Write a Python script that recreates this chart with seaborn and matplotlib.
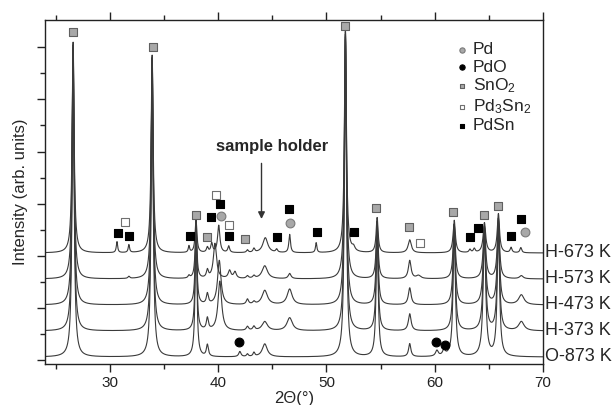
import seaborn as sns
import matplotlib.pyplot as plt
import numpy as np
import pandas as pd
from matplotlib.ticker import MultipleLocator, FixedLocator

# Patrones DRX apilados (posicion 2theta, altura, anchura FWHM)
samples = ['O-873 K', 'H-373 K', 'H-473 K', 'H-573 K', 'H-673 K']

peaks_o873 = [(26.60, 11.6, 0.22), (33.90, 11.2, 0.22), (37.95, 4.9, 0.20), (39.00, 0.45, 0.22),
              (42.00, 0.20, 0.25), (42.70, 0.10, 0.20), (43.30, 0.15, 0.20), (44.30, 0.50, 0.55),
              (51.75, 12.2, 0.22), (54.68, 5.0, 0.22), (57.69, 0.50, 0.25), (60.20, 0.22, 0.30),
              (60.85, 0.22, 0.30), (61.80, 4.9, 0.25), (64.59, 4.8, 0.28), (65.88, 5.1, 0.25)]
peaks_h373 = [(26.60, 10.8, 0.22), (33.90, 10.4, 0.22), (37.95, 3.9, 0.20), (39.00, 0.45, 0.22),
              (40.15, 1.9, 0.40), (42.70, 0.15, 0.25), (43.30, 0.15, 0.25), (44.30, 0.35, 0.60),
              (46.60, 0.50, 0.60), (51.75, 11.3, 0.22), (54.68, 4.1, 0.22), (57.69, 0.65, 0.30),
              (61.80, 4.0, 0.25), (64.59, 3.9, 0.28), (65.88, 4.2, 0.25), (68.00, 0.35, 0.60)]
peaks_h473 = [(26.60, 9.9, 0.22), (33.90, 9.5, 0.22), (37.95, 2.9, 0.20), (39.00, 0.40, 0.22),
              (40.10, 1.7, 0.38), (42.70, 0.20, 0.25), (43.30, 0.10, 0.25), (44.30, 0.55, 0.60),
              (46.60, 0.60, 0.55), (51.75, 10.4, 0.22), (54.68, 3.2, 0.22), (57.69, 0.65, 0.30),
              (61.80, 3.1, 0.25), (64.59, 3.0, 0.28), (65.88, 3.3, 0.25), (68.00, 0.38, 0.60)]
peaks_h573 = [(26.60, 9.0, 0.22), (31.75, 0.08, 0.20), (33.90, 8.5, 0.22), (37.30, 0.10, 0.20),
              (37.95, 2.0, 0.20), (39.00, 0.30, 0.22), (39.70, 1.35, 0.35), (41.05, 0.30, 0.30),
              (41.55, 0.25, 0.30), (42.70, 0.10, 0.25), (43.30, 0.10, 0.25), (44.30, 0.50, 0.60),
              (46.60, 0.20, 0.30), (51.75, 9.5, 0.22), (54.68, 2.2, 0.22), (57.69, 0.70, 0.30),
              (58.50, 0.12, 0.50), (61.80, 2.1, 0.25), (64.59, 2.0, 0.28), (65.88, 2.3, 0.25),
              (68.00, 0.12, 0.40)]
peaks_h673 = [(26.60, 8.1, 0.22), (30.65, 0.42, 0.15), (31.75, 0.30, 0.15), (33.90, 7.6, 0.22),
              (37.30, 0.25, 0.15), (37.95, 1.27, 0.20), (39.00, 0.20, 0.20), (39.40, 0.35, 0.20),
              (40.05, 1.05, 0.25), (40.97, 0.25, 0.20), (42.70, 0.10, 0.20), (43.30, 0.15, 0.20),
              (44.35, 0.58, 0.55), (45.40, 0.12, 0.20), (46.60, 0.70, 0.18), (49.05, 0.38, 0.15),
              (51.75, 8.6, 0.22), (52.50, 0.15, 0.30), (54.68, 1.35, 0.22), (57.69, 0.50, 0.35),
              (61.80, 1.25, 0.25), (63.25, 0.12, 0.20), (63.65, 0.15, 0.20), (64.59, 1.15, 0.28),
              (65.88, 1.50, 0.25), (67.05, 0.20, 0.20), (67.95, 0.20, 0.20)]
peak_lists = [peaks_o873, peaks_h373, peaks_h473, peaks_h573, peaks_h673]

# Marcadores de fases (x, y)
pd_x = [40.30, 46.65, 68.36]
pd_y = [5.43, 5.17, 4.80]
pdo_x = [41.96, 60.08, 60.94]
pdo_y = [0.59, 0.59, 0.47]
sno2_x = [26.62, 33.98, 37.91, 38.99, 42.51, 51.74, 54.54, 57.63, 61.68, 64.53, 65.81]
sno2_y = [12.49, 11.90, 5.46, 4.63, 4.53, 12.73, 5.72, 5.01, 5.56, 5.47, 5.81]
pd3sn2_x = [31.41, 39.82, 40.98, 58.64]
pd3sn2_y = [5.18, 6.23, 5.08, 4.40]
pdsn_x = [30.70, 31.78, 37.36, 39.38, 40.21, 40.98, 45.43, 46.56, 49.16, 52.57, 63.30, 63.97, 67.04, 67.96]
pdsn_y = [4.78, 4.67, 4.65, 5.40, 5.87, 4.67, 4.63, 5.68, 4.80, 4.80, 4.60, 4.97, 4.67, 5.30]

sns.set_style("ticks")
plt.rcParams['font.family'] = ['Liberation Sans', 'DejaVu Sans']
plt.rcParams['mathtext.default'] = 'regular'

# Construir perfiles (Lorentzianas) desplazados verticalmente
tt = np.arange(24.0, 70.0001, 0.01)
rows = []
for i, (name, peaks) in enumerate(zip(samples, peak_lists)):
    y = np.zeros_like(tt)
    for pos, h, w in peaks:
        g = w / 2
        y += h * g**2 / ((tt - pos)**2 + g**2)
    rows.append(pd.DataFrame({'two_theta': tt, 'intensity': y + i, 'sample': name}))
df = pd.concat(rows, ignore_index=True)

fig = plt.figure(figsize=(6.16, 4.05), dpi=100)
ax = fig.add_axes([0.073, 0.101, 0.8085, 0.85])

sns.lineplot(data=df, x='two_theta', y='intensity', units='sample', estimator=None,
             color='#3a3a3a', lw=0.8, ax=ax)

phases = [
    ('Pd', pd_x, pd_y, 'o', '#a8a8a8', '#7a7a7a', 40),
    ('PdO', pdo_x, pdo_y, 'o', '#000000', '#000000', 40),
    ('SnO$_2$', sno2_x, sno2_y, 's', '#a8a8a8', '#606060', 28),
    ('Pd$_3$Sn$_2$', pd3sn2_x, pd3sn2_y, 's', '#ffffff', '#707070', 28),
    ('PdSn', pdsn_x, pdsn_y, 's', '#000000', '#000000', 32),
]
for label, xs, ys, m, fc, ec, s in phases:
    sns.scatterplot(x=xs, y=ys, marker=m, s=s, color=fc, edgecolor=ec, linewidth=0.8,
                    label=label, ax=ax, zorder=3)

for i, name in enumerate(samples):
    ax.text(70.2, i + 0.02, name, ha='left', va='center', fontsize=13, clip_on=False)

ax.annotate('', xy=(44.0, 5.2), xytext=(44.0, 7.55),
            arrowprops=dict(arrowstyle='-|>', color='#333333', lw=1, mutation_scale=10))
ax.text(44.95, 8.09, 'sample holder', ha='center', va='center', fontsize=12, fontweight='bold')

ax.set_xlim(24, 70)
ax.set_ylim(-0.27, 12.96)
ax.xaxis.set_major_locator(MultipleLocator(10))
ax.xaxis.set_minor_locator(MultipleLocator(5))
ax.yaxis.set_major_locator(FixedLocator([k - 0.1 for k in range(0, 13, 2)]))
ax.yaxis.set_minor_locator(FixedLocator([k - 0.1 for k in range(1, 13, 2)]))
ax.tick_params(which='both', direction='out', top=True, right=False, labelleft=False,
               labeltop=False, colors='#222222', labelsize=11, pad=2.5)
ax.tick_params(which='major', length=6, width=1)
ax.tick_params(which='minor', length=3.5, width=1)
for sp in ax.spines.values():
    sp.set_linewidth(1.0)
    sp.set_color('#222222')

ax.set_xlabel('2Θ(°)', fontsize=12, labelpad=1)
ax.set_ylabel('Intensity (arb. units)', fontsize=12, labelpad=6)

ax.legend(loc='upper left', bbox_to_anchor=(0.81, 0.96), frameon=False, fontsize=12.5,
          markerscale=0.6, handlelength=0.6, handletextpad=0.3, labelspacing=0.12,
          borderpad=0)

plt.savefig('out.png', dpi=100)
